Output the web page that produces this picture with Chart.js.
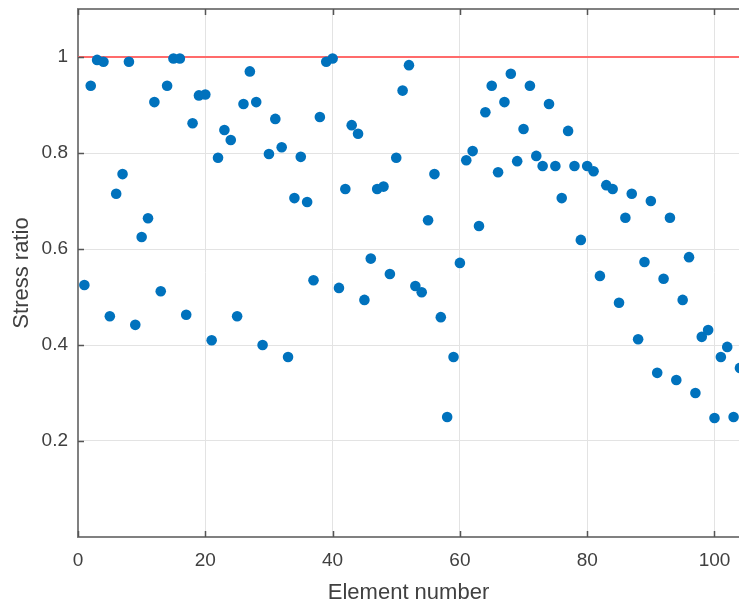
<!DOCTYPE html>
<html>
<head>
<meta charset="utf-8">
<script src="https://cdn.jsdelivr.net/npm/chart.js@4/dist/chart.umd.min.js"></script>
<style>
html,body{margin:0;padding:0;background:#fff;}
#wrap{width:739px;height:606px;position:relative;}
</style>
</head>
<body>
<div id="wrap"><canvas id="c" width="739" height="606"></canvas></div>
<script>
const elementNumbers = [
  1,2,3,4,5,6,7,8,9,10,11,12,13,14,15,16,17,18,19,20,
  21,22,23,24,25,26,27,28,29,30,31,32,33,34,35,36,37,38,39,40,
  41,42,43,44,45,46,47,48,49,50,51,52,53,54,55,56,57,58,59,60,
  61,62,63,64,65,66,67,68,69,70,71,72,73,74,75,76,77,78,79,80,
  81,82,83,84,85,86,87,88,89,90,91,92,93,94,95,96,97,98,99,100,
  101,102,103,104
];
const stressRatio = [
  0.525,0.94,0.994,0.99,0.46,0.715,0.756,0.99,0.442,0.625,
  0.664,0.906,0.512,0.94,0.997,0.997,0.463,0.862,0.92,0.922,
  0.41,0.79,0.848,0.827,0.46,0.902,0.97,0.906,0.4,0.798,
  0.871,0.812,0.375,0.706,0.792,0.698,0.535,0.875,0.99,0.997,
  0.519,0.725,0.858,0.84,0.494,0.58,0.725,0.73,0.548,0.79,
  0.93,0.983,0.523,0.51,0.66,0.756,0.458,0.25,0.375,0.571,
  0.785,0.804,0.648,0.885,0.94,0.76,0.906,0.965,0.783,0.85,
  0.94,0.794,0.773,0.902,0.773,0.706,0.846,0.773,0.619,0.773,
  0.762,0.544,0.733,0.725,0.488,0.665,0.715,0.412,0.573,0.7,
  0.342,0.538,0.665,0.327,0.494,0.583,0.3,0.417,0.431,0.248,
  0.375,0.396,0.25,0.352
];
const limitLine = [1, 1];
const limitX = [0, 200];
const xTicks = [0, 20, 40, 60, 80, 100];
const yTicks = [0.2, 0.4, 0.6, 0.8, 1];
const xMin = 0, xMax = 103.85, yMin = 0, yMax = 1.1;

const FONT = "'Liberation Sans', Arial, Helvetica, sans-serif";
const TXT = '#404040';
const AXIS = '#808080';

const scatterData = elementNumbers.map((x, i) => ({x: x, y: stressRatio[i]}));
const lineData = limitX.map((x, i) => ({x: x, y: limitLine[i]}));

const framePlugin = {
  id: 'frame',
  afterDatasetsDraw(chart) {
    const {ctx, chartArea: a, scales: {x, y}} = chart;
    ctx.save();
    ctx.strokeStyle = AXIS;
    ctx.lineWidth = 2;
    ctx.beginPath();
    ctx.moveTo(a.left - 1, a.top);
    ctx.lineTo(a.right + 2, a.top);
    ctx.stroke();
    ctx.strokeStyle = '#555555';
    ctx.lineWidth = 1.5;
    const L = 6;
    ctx.beginPath();
    xTicks.forEach(v => {
      const px = Math.round(x.getPixelForValue(v)) + 0.5;
      ctx.moveTo(px, a.top); ctx.lineTo(px, a.top + L);
      ctx.moveTo(px, a.bottom); ctx.lineTo(px, a.bottom - L);
    });
    yTicks.forEach(v => {
      const py = Math.round(y.getPixelForValue(v)) + 0.5;
      ctx.moveTo(a.left, py); ctx.lineTo(a.left + L, py);
    });
    ctx.stroke();
    ctx.restore();
  }
};

new Chart(document.getElementById('c'), {
  type: 'scatter',
  data: {
    datasets: [
      {
        label: 'Stress ratio',
        data: scatterData,
        backgroundColor: '#0072BD',
        borderColor: '#0072BD',
        pointRadius: 5.3,
        pointHoverRadius: 5.3,
        borderWidth: 0,
        order: 0
      },
      {
        type: 'line',
        label: 'Limit',
        data: lineData,
        borderColor: '#FF6B6B',
        borderWidth: 2.2,
        pointRadius: 0,
        fill: false,
        order: 1
      }
    ]
  },
  options: {
    responsive: false,
    animation: false,
    devicePixelRatio: 1,
    layout: {autoPadding: false, padding: {top: 9, right: 0, left: 0, bottom: 0}},
    plugins: {legend: {display: false}, tooltip: {enabled: false}},
    scales: {
      x: {
        type: 'linear',
        min: xMin, max: xMax,
        afterBuildTicks(s) { s.ticks = xTicks.map(v => ({value: v})); },
        afterFit(s) { s.height = 69; s.paddingLeft = 0; s.paddingRight = 0; },
        grid: {color: '#e3e3e3', lineWidth: 1, drawTicks: false},
        border: {color: AXIS, width: 2},
        ticks: {
          padding: 12,
          color: TXT,
          font: {family: FONT, size: 19},
          maxRotation: 0,
          callback: v => String(v)
        },
        title: {
          display: true,
          text: 'Element number',
          color: TXT,
          font: {family: FONT, size: 22},
          padding: {top: 1, bottom: 0}
        }
      },
      y: {
        type: 'linear',
        min: yMin, max: yMax,
        afterBuildTicks(s) { s.ticks = [0].concat(yTicks).map(v => ({value: v})); },
        afterFit(s) { s.width = 78; s.paddingTop = 0; s.paddingBottom = 0; },
        grid: {color: '#e3e3e3', lineWidth: 1, drawTicks: false},
        border: {color: AXIS, width: 2},
        ticks: {
          padding: 10,
          color: TXT,
          font: {family: FONT, size: 19},
          callback: v => (v === 0 ? '' : String(Math.round(v * 10) / 10))
        },
        title: {
          display: true,
          text: 'Stress ratio',
          color: TXT,
          font: {family: FONT, size: 22},
          padding: {top: 9, bottom: 0}
        }
      }
    }
  },
  plugins: [framePlugin]
});
</script>
</body>
</html>
